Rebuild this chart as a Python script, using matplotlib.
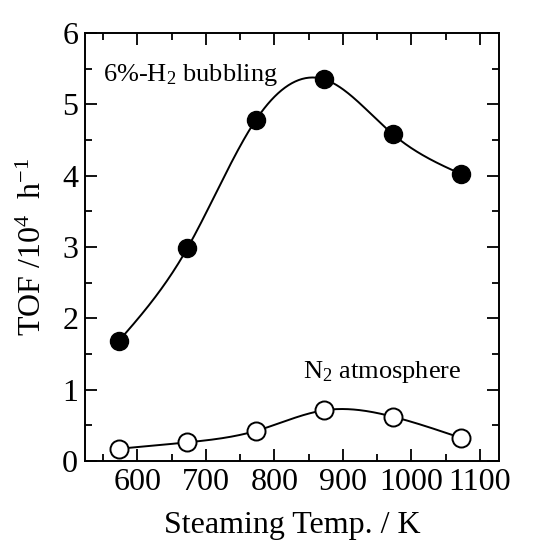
import numpy as np
import matplotlib.pyplot as plt
from matplotlib.ticker import MultipleLocator

plt.rcParams['font.family'] = ['Liberation Serif', 'DejaVu Serif']
plt.rcParams['mathtext.fontset'] = 'custom'
plt.rcParams['mathtext.rm'] = 'Liberation Serif'
plt.rcParams['mathtext.it'] = 'Liberation Serif:italic'

# steaming temperature (K)
temps = [573, 673, 773, 873, 973, 1073]
# TOF / 10^4 h^-1
tof_h2 = [1.68, 2.98, 4.78, 5.35, 4.58, 4.02]
tof_n2 = [0.17, 0.26, 0.42, 0.71, 0.62, 0.32]


def natural_spline(x, y, n=300):
    x = np.asarray(x, float)
    y = np.asarray(y, float)
    h = np.diff(x)
    m = len(x)
    A = np.zeros((m, m))
    b = np.zeros(m)
    A[0, 0] = A[-1, -1] = 1
    for i in range(1, m - 1):
        A[i, i - 1] = h[i - 1]
        A[i, i] = 2 * (h[i - 1] + h[i])
        A[i, i + 1] = h[i]
        b[i] = 6 * ((y[i + 1] - y[i]) / h[i] - (y[i] - y[i - 1]) / h[i - 1])
    M = np.linalg.solve(A, b)
    xs = np.linspace(x[0], x[-1], n)
    k = np.clip(np.searchsorted(x, xs) - 1, 0, m - 2)
    t0 = x[k + 1] - xs
    t1 = xs - x[k]
    hk = h[k]
    ys = (M[k] * t0**3 + M[k + 1] * t1**3) / (6 * hk) \
        + (y[k] / hk - M[k] * hk / 6) * t0 + (y[k + 1] / hk - M[k + 1] * hk / 6) * t1
    return xs, ys


fig = plt.figure(figsize=(5.39, 5.5), dpi=100)
ax = fig.add_axes([0.158, 0.162, 0.768, 0.778])

xs, ys = natural_spline(temps, tof_h2)
ax.plot(xs, ys, color='black', lw=1.4)
xs, ys = natural_spline(temps, tof_n2)
ax.plot(xs, ys, color='black', lw=1.4)

ax.plot(temps, tof_h2, 'o', ms=13, mfc='black', mec='black')
ax.plot(temps, tof_n2, 'o', ms=13, mfc='white', mec='black', mew=1.4)

ax.text(550, 5.41, '6%-H$_2$ bubbling', fontsize=19, va='center')
ax.text(842, 1.25, 'N$_2$ atmosphere', fontsize=19, va='center')

ax.set_xlim(524, 1128)
ax.set_ylim(0, 6)
ax.xaxis.set_major_locator(MultipleLocator(100))
ax.xaxis.set_minor_locator(MultipleLocator(50))
ax.yaxis.set_major_locator(MultipleLocator(1))
ax.yaxis.set_minor_locator(MultipleLocator(0.5))
ax.tick_params(which='both', direction='in', top=True, right=True, width=1.3)
ax.tick_params(which='major', length=8.5, labelsize=23, pad=5)
ax.tick_params(which='minor', length=5)
for s in ax.spines.values():
    s.set_linewidth(1.4)

ax.set_xlabel('Steaming Temp. / K', fontsize=23, labelpad=10)
ax.set_ylabel('TOF /10$^{4}$  h$^{-1}$', fontsize=23, labelpad=10)

fig.savefig('out.png', dpi=100)
